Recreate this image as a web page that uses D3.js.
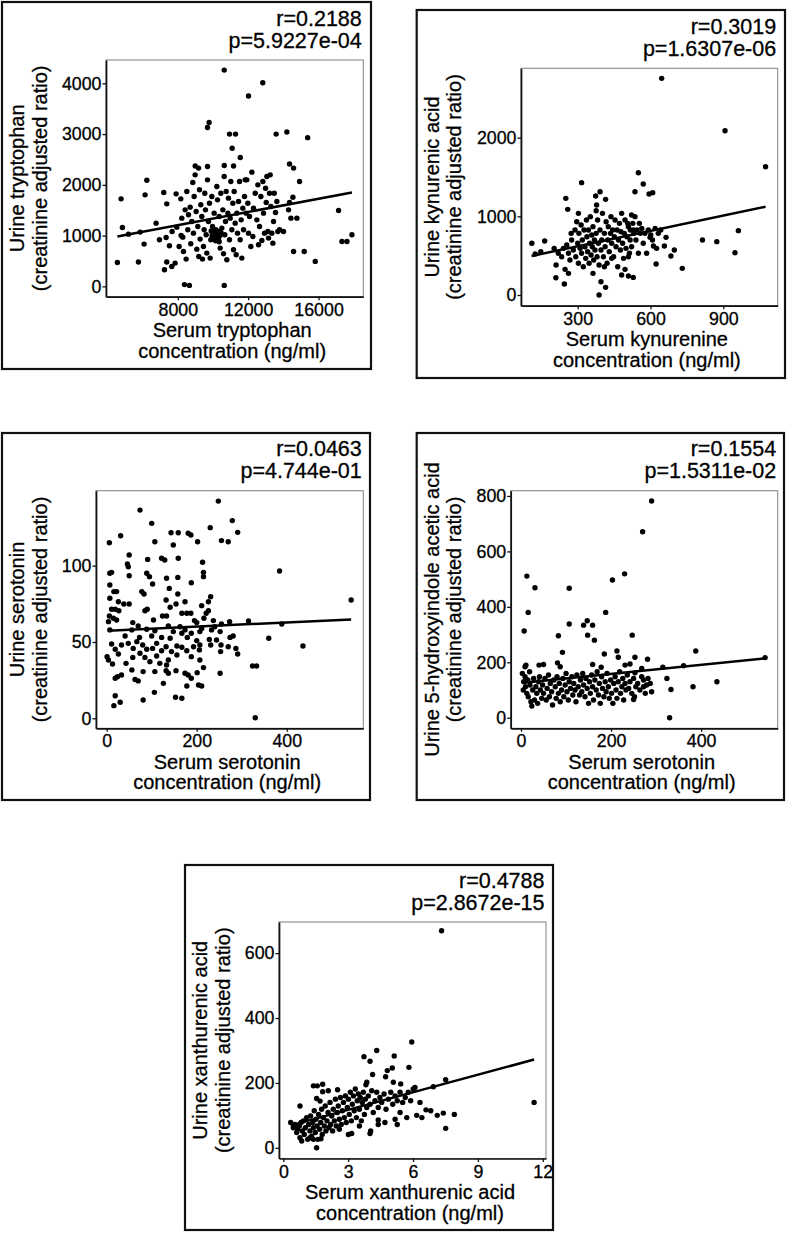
<!DOCTYPE html>
<html><head><meta charset="utf-8">
<script src="https://cdn.jsdelivr.net/npm/d3@7"></script>
<style>
body{margin:0;background:#fff}
svg{display:block}
text{font-family:"Liberation Sans",Arial,sans-serif;fill:#000;stroke:#000;stroke-width:0.3px}
</style>
</head><body>
<svg id="c" width="787" height="1235"></svg>
<script>
// ---------- DATA ----------
const statR = ["r=0.2188","r=0.3019","r=0.0463","r=0.1554","r=0.4788"];
const statP = ["p=5.9227e-04","p=1.6307e-06","p=4.744e-01","p=1.5311e-02","p=2.8672e-15"];
const yTitles = [
  ["Urine tryptophan","(creatinine adjusted ratio)"],
  ["Urine kynurenic acid","(creatinine adjusted ratio)"],
  ["Urine serotonin","(creatinine adjusted ratio)"],
  ["Urine 5-hydroxyindole acetic acid","(creatinine adjusted ratio)"],
  ["Urine xanthurenic acid","(creatinine adjusted ratio)"]
];
const xTitles = [
  ["Serum tryptophan","concentration (ng/ml)"],
  ["Serum kynurenine","concentration (ng/ml)"],
  ["Serum serotonin","concentration (ng/ml)"],
  ["Serum serotonin","concentration (ng/ml)"],
  ["Serum xanthurenic acid","concentration (ng/ml)"]
];
const xTicks = [[8000,12000,16000],[300,600,900],[0,200,400],[0,200,400],[0,3,6,9,12]];
const yTicks = [[0,1000,2000,3000,4000],[0,1000,2000],[0,50,100],[0,200,400,600,800],[0,200,400,600]];

// regression lines: [x0,y0],[x1,y1]
const fitTrp = [[4568,984],[17897,1849]];
const fitKyn = [[110,496],[1074,1123]];
const fitSer = [[4,57.4],[543,64.8]];
const fitHiaa = [[5,126],[542,214]];
const fitXa = [[0.34,69],[11.6,272]];

// points [serum, urine]
const trpPoints = [
[10640,4260],[12830,4010],[12020,3750],[9780,3230],[9690,3130],[10940,3000],[11280,3000],[13590,3000],[14200,3040],[15380,2930],
[11090,2720],[11550,2540],[8990,2370],[9180,2330],[9690,2360],[10640,2380],[11170,2370],[14350,2410],[14580,2330],[6240,2090],
[14920,2065],[12210,2250],[10640,20],[8380,35],[8660,20],
[4568,472],[4777,1724],[4853,1161],[5194,1029],[5763,479],[5858,1069],[6085,833],[6142,1803],[6768,1246],[6958,918],
[7204,1849],[7242,328],[7374,1626],[7336,964],[7374,479],[7526,800],[7659,393],[7678,1082],[7848,459],[7905,1823],
[7943,1167],[8076,787],[8171,1724],[8190,1003],[8228,1344],[8284,970],[8322,688],[8417,1508],[8474,538],[8512,1869],
[8569,1115],[8607,1410],[8702,1561],[8739,839],[8796,1279],[8853,2046],[8891,1049],[8929,1770],[8986,2197],[9043,1475],
[9081,734],[9138,1180],[9194,590],[9232,1902],[9270,931],[9308,1607],[9365,1377],[9403,538],[9460,787],[9498,1115],
[9535,1836],[9573,1508],[9611,1016],[9649,656],[9687,2098],[9744,1279],[9801,1639],[9839,557],[9877,918],[9934,1770],
[9972,1180],[10029,1049],[10067,1443],[10124,984],[10162,1115],[10219,1967],[10257,1705],[10314,918],[10351,1377],[10408,754],
[10446,1836],[10503,1148],[10560,1508],[10598,643],[10636,2164],[10674,1016],[10712,1279],[10750,1869],[10787,525],[10844,1443],
[10882,1738],[10939,918],[10977,1344],[11015,2065],[11071,1115],[11128,1639],[11166,721],[11204,1869],[11261,1246],[11318,623],
[11356,1443],[11394,1049],[11451,1672],[11508,2065],[11545,918],[11602,1311],[11640,557],[11697,1541],[11735,1115],[11792,1770],
[11830,2098],[11887,1443],[11924,2098],[11981,1639],[12019,1049],[12076,1377],[12152,787],[12266,984],[12304,1541],[12399,1836],
[12493,1311],[12550,2000],[12588,820],[12645,1180],[12721,1770],[12778,905],[12835,2065],[12873,1443],[12930,1049],[12987,1934],
[13025,1652],[13063,2164],[13120,1082],[13157,951],[13214,1836],[13252,2197],[13290,1574],[13347,1049],[13404,852],[13442,1279],
[13479,1836],[13555,1456],[13631,1672],[13688,1082],[14010,1082],[13783,1115],[14295,1508],[14352,1652],[14428,1344],[14542,1757],
[14580,688],[14769,1344],[15186,688],[15812,492],[17139,1495],[17329,885],[17613,885],[17897,1016],
[10100,1000],[10200,1050],[10300,1080],[10150,900],[10250,950],[10400,1000],[10350,880],[9950,1000],[10050,1120],[9900,1090],
[10450,1060],[10000,950]
];

const kynPoints = [
[646,2754],[907,2089],[1074,1631],[962,818],[948,538],[873,678],[814,699],[731,339],[684,496],[698,572],
[664,733],[657,623],[623,394],[612,623],[598,733],[642,826],[609,1301],[594,1284],[570,1411],[550,1555],
[536,1313],[522,1017],[506,911],[529,826],[516,699],[509,487],[495,326],[509,241],[529,224],[481,254],
[316,1428],[392,1313],[374,1258],[415,1216],[378,1144],[376,1072],[303,1038],[251,1229],[259,1089],[296,932],
[273,784],[111,657],[125,521],[148,551],[164,686],[203,593],[211,381],[210,220],[245,140],[248,326],
[262,275],[388,0],[396,169],[415,97],[363,275],[410,360],[440,466],
[220,530],[234,487],[241,593],[255,636],[262,530],[268,445],[275,699],[282,572],[289,826],[292,487],
[300,657],[303,403],[305,784],[310,593],[314,890],[316,530],[319,699],[323,360],[326,826],[330,614],
[333,466],[336,953],[338,741],[341,551],[344,826],[347,403],[349,657],[352,996],[355,508],[358,763],
[360,614],[363,869],[366,445],[369,699],[371,572],[376,784],[380,487],[382,953],[385,657],[388,381],
[392,826],[396,572],[399,699],[402,1038],[406,487],[410,784],[413,614],[417,932],[421,403],[424,699],
[426,869],[430,551],[435,784],[437,996],[440,657],[444,826],[448,487],[451,741],[454,953],[458,614],
[462,826],[465,360],[468,699],[472,911],[476,572],[478,805],[481,1038],[485,657],[489,466],[492,784],
[495,953],[499,593],[503,741],[509,869],[513,530],[517,826],[522,614],[527,911],[531,784],[536,996],
[540,699],[544,826],[550,530],[554,911],[558,784],[564,847],[570,657],[577,784],[584,530],[591,826],
[601,763],[608,699],[619,847],[625,593],[632,784]
];

const serPoints = [
[248,142.3],[74,136.4],[279,129.5],[100,127.7],[230,124.9],[31,119.6],[143,121.6],[159,121.6],[181,121.2],[187,120.1],
[291,121.8],[6,115.0],[107,115.7],[148,113.5],[202,115.7],[255,116.4],[270,115.7],[50,107.0],[46,101.1],[48,99.3],
[122,104.8],[129,103.7],[91,104.1],[159,104.8],[213,102.2],[215,95.6],[215,92.8],[384,96.5],[7,95.0],[11,95.6],
[50,93.4],[89,95.0],[95,92.8],[102,88.0],[133,91.7],[158,92.3],[188,88.8],[7,87.3],[16,83.0],[22,83.0],
[78,83.0],[83,81.4],[139,85.1],[158,81.4],[7,78.6],[26,76.4],[38,74.9],[50,74.9],[132,77.5],[154,74.9],
[174,76.4],[231,79.7],[226,76.4],[211,73.8],[11,71.4],[19,71.4],[141,72.7],[85,70.5],[90,71.4],[27,70.5],
[226,70.5],[221,68.8],[178,68.8],[187,68.8],[124,67.0],[133,67.0],[167,68.8],[216,65.5],[6,67.0],[15,65.5],
[22,64.4],[4,63.3],[58,62.7],[104,64.4],[195,64.0],[200,62.7],[237,64.0],[255,61.8],[273,63.3],[315,63.7],
[389,61.8],[70,60.5],[137,60.5],[163,60.0],[174,57.9],[211,58.9],[240,60.0],[7,57.9],[56,57.9],[89,58.3],
[107,57.4],[148,56.8],[167,55.7],[188,55.7],[207,56.8],[233,57.9],[252,56.8],[281,53.9],[274,53.0],[360,52.4],
[41,53.9],[73,53.0],[100,53.9],[122,53.0],[141,52.4],[179,53.0],[200,50.9],[228,51.7],[244,51.3],[11,48.7],
[33,48.0],[48,49.1],[67,50.2],[80,48.0],[111,49.1],[132,46.9],[156,47.4],[167,46.5],[193,46.9],[207,48.0],
[231,48.0],[254,48.0],[270,46.9],[287,45.8],[436,47.4],[19,45.2],[59,45.8],[89,45.2],[102,45.8],[122,44.3],
[144,43.7],[178,44.3],[206,44.8],[253,43.7],[26,42.1],[74,42.6],[111,40.8],[156,41.5],[188,40.4],[291,42.1],
[1,40.4],[4,38.2],[58,39.9],[85,39.9],[137,38.2],[13,35.6],[43,36.0],[96,37.1],[118,36.0],[133,34.9],
[207,38.2],[324,34.3],[333,34.3],[56,31.7],[81,30.6],[107,30.6],[132,31.2],[137,29.5],[154,31.2],[174,29.5],
[201,29.9],[215,33.2],[252,29.5],[181,28.4],[19,26.2],[24,27.3],[33,28.4],[63,25.5],[70,24.5],[188,26.2],
[126,22.9],[178,21.2],[204,21.8],[211,21.2],[106,17.0],[19,14.8],[153,13.8],[167,13.1],[30,10.5],[16,8.3],
[81,12.0],[330,0.4],[543,77.5]
];

const hiaaPoints = [
[290,782],[270,671],[13,511],[31,469],[16,380],[7,313],[107,467],[203,497],[230,519],[107,338],
[139,334],[147,350],[159,334],[148,298],[163,280],[188,380],[83,296],[247,298],[92,236],[185,230],
[213,241],[216,218],[253,218],[281,211],[388,241],[361,188],[315,182],[542,217],[324,142],[333,102],
[382,112],[435,130],[330,0],[9,184],[11,190],[40,190],[50,192],[81,198],[87,184],[159,192],
[178,182],[231,190],[242,194],[268,178],[253,162],[282,142],[287,124],[276,88],[290,94],[272,112],
[250,66],[252,76],[268,148],
[3,160],[6,130],[5,100],[9,148],[10,112],[13,88],[15,136],[16,76],[19,166],[20,118],
[22,58],[24,42],[26,100],[28,142],[30,64],[33,112],[35,88],[37,52],[39,130],[41,148],
[43,100],[46,70],[48,118],[50,88],[53,142],[56,64],[58,106],[61,154],[63,76],[65,124],
[68,94],[70,46],[73,136],[76,112],[78,70],[80,148],[83,88],[85,124],[87,58],[90,100],
[93,142],[95,76],[98,118],[100,160],[102,94],[105,64],[107,130],[110,106],[113,148],[115,82],
[117,124],[120,100],[122,58],[124,154],[127,112],[130,82],[132,136],[135,94],[137,160],[139,118],
[142,76],[144,142],[147,106],[150,52],[152,130],[154,88],[157,154],[159,112],[161,64],[164,136],
[167,100],[169,166],[172,82],[174,124],[176,52],[179,148],[181,106],[184,76],[187,130],[189,94],
[191,160],[194,112],[196,70],[199,136],[201,88],[204,52],[206,124],[209,148],[211,100],[213,70],
[216,130],[219,166],[221,88],[224,112],[226,142],[228,64],[231,124],[233,100],[236,154],[239,106],
[242,130],[246,88],[250,142],[255,112],[259,124],[264,100],[272,136],[279,118]
];

const xaPoints = [
[7.32,669],[5.94,326],[4.32,300],[5.13,283],[3.73,281],[4.01,267],[5.81,248],[5.04,246],[4.81,238],[4.13,226],
[4.73,219],[7.51,210],[6.94,188],[3.86,202],[3.82,194],[5.09,202],[5.43,197],[6.09,186],[6.01,181],[6.32,140],
[11.60,140],[6.60,117],[6.82,114],[7.12,100],[7.40,107],[7.91,103],[7.51,60],[6.17,100],[6.41,93],[5.71,93],
[5.40,109],[5.17,88],[5.27,72],[4.70,78],[4.39,72],[4.01,44],[4.04,52],[4.39,86],[3.52,67],[3.16,44],
[3.01,41],[2.59,57],[1.54,0],[0.85,21],[0.34,78],[1.39,191],[1.57,191],[1.82,196],[2.08,176],[1.82,173],
[2.51,179],[1.54,152],[1.70,144],[0.77,129],[1.23,31],[1.39,26],[1.74,28],
[0.46,62],[0.54,72],[0.62,47],[0.66,57],[0.74,67],[0.77,31],[0.82,78],[0.88,52],[0.93,83],[0.97,41],
[1.02,62],[1.08,93],[1.13,26],[1.17,72],[1.23,52],[1.26,98],[1.31,36],[1.36,78],[1.39,62],[1.43,114],
[1.48,47],[1.51,88],[1.56,67],[1.60,26],[1.63,103],[1.68,57],[1.73,78],[1.77,119],[1.80,41],[1.85,93],
[1.90,67],[1.94,129],[1.97,52],[2.02,83],[2.07,109],[2.11,62],[2.16,140],[2.19,72],[2.24,98],[2.28,52],
[2.31,119],[2.36,83],[2.41,150],[2.45,67],[2.50,109],[2.54,129],[2.59,88],[2.64,155],[2.68,72],[2.73,114],
[2.78,140],[2.82,93],[2.87,160],[2.91,78],[2.96,124],[3.01,150],[3.05,103],[3.10,171],[3.15,83],[3.19,134],
[3.24,160],[3.28,114],[3.33,181],[3.38,93],[3.42,145],[3.47,166],[3.52,119],[3.56,155],[3.61,83],[3.65,140],
[3.70,171],[3.75,103],[3.79,150],[3.86,124],[3.93,160],[4.01,134],[4.09,176],[4.16,109],[4.24,145],[4.32,171],
[4.39,124],[4.47,155],[4.55,140],[4.66,166],[4.75,119],[4.86,150],[4.97,171],[5.06,134],[5.17,160],[5.27,145],
[5.40,171],[5.52,140],[5.64,155],[5.78,171],[5.89,145]
];

const pointSets = [trpPoints, kynPoints, serPoints, hiaaPoints, xaPoints];
const fits = [fitTrp, fitKyn, fitSer, fitHiaa, fitXa];

// ---------- LAYOUT (positions, not data) ----------
const layout = [
  {box:[2,2,371,369],       plot:[106,60,363.3,296.7],    xd:[3920,18543], yd:[-203,4459]},
  {box:[416.7,10,785,378],  plot:[521,68.3,777.7,305.7],  xd:[66.4,1124],  yd:[-136,2882]},
  {box:[2,433,370,800],     plot:[96,490.7,363.3,728.3],  xd:[-23.7,570],  yd:[-6.55,149.1]},
  {box:[416.7,433,784,800], plot:[510.7,490.7,777.7,728.3], xd:[-22.9,570], yd:[-38,819]},
  {box:[185,865,553,1230],  plot:[279,922,546,1158.5],    xd:[-0.2,12.15], yd:[-33,696]}
];

const svg = d3.select("#c");

layout.forEach((L, i) => {
  const g = svg.append("g");
  const [bx0, by0, bx1, by1] = L.box;
  const [px0, py0, px1, py1] = L.plot;

  g.append("rect").attr("x", bx0).attr("y", by0)
    .attr("width", bx1 - bx0).attr("height", by1 - by0)
    .attr("fill", "none").attr("stroke", "#111").attr("stroke-width", 2.2);

  const x = d3.scaleLinear().domain(L.xd).range([px0, px1]);
  const y = d3.scaleLinear().domain(L.yd).range([py1, py0]);

  // panel border (grey)
  g.append("rect").attr("x", px0).attr("y", py0)
    .attr("width", px1 - px0).attr("height", py1 - py0)
    .attr("fill", "none").attr("stroke", "#8a8a8a").attr("stroke-width", 1.1);

  // axes
  const xa = g.append("g").attr("transform", `translate(0,${py1})`)
    .call(d3.axisBottom(x).tickValues(xTicks[i]).tickSize(3.5).tickSizeOuter(0).tickPadding(3).tickFormat(d3.format("d")));
  const ya = g.append("g").attr("transform", `translate(${px0},0)`)
    .call(d3.axisLeft(y).tickValues(yTicks[i]).tickSize(3.5).tickSizeOuter(0).tickPadding(1).tickFormat(d3.format("d")));
  [xa, ya].forEach(a => {
    a.select(".domain").attr("stroke", "#111").attr("stroke-width", 1.7);
    a.selectAll(".tick line").attr("stroke", "#111").attr("stroke-width", 1.3);
    a.selectAll(".tick text").attr("font-size", "17.8px").attr("fill", "#000")
      .style("font-family", '"Liberation Sans",Arial,sans-serif');
  });

  // points
  g.append("g").selectAll("circle").data(pointSets[i]).join("circle")
    .attr("cx", d => x(d[0])).attr("cy", d => y(d[1])).attr("r", 2.7).attr("fill", "#000");

  // regression line
  g.append("path").datum(fits[i])
    .attr("d", d3.line().x(d => x(d[0])).y(d => y(d[1])))
    .attr("stroke", "#000").attr("stroke-width", 2.5).attr("fill", "none");

  // stats text
  g.append("text").attr("x", px1 - 1.5).attr("y", py0 - 34.5).attr("text-anchor", "end")
    .attr("font-size", "21.5px").text(statR[i]);
  g.append("text").attr("x", px1 - 1.5).attr("y", py0 - 12.5).attr("text-anchor", "end")
    .attr("font-size", "21.5px").text(statP[i]);

  // y title
  const cy = (py0 + py1) / 2;
  yTitles[i].forEach((t, k) => {
    g.append("text").attr("transform", `translate(${bx0 + 22 + k * 22.5},${cy}) rotate(-90)`)
      .attr("text-anchor", "middle").attr("font-size", "20px").text(t);
  });
  // x title
  const cx = (px0 + px1) / 2 - 2.5;
  xTitles[i].forEach((t, k) => {
    g.append("text").attr("x", cx).attr("y", py1 + 40.5 + k * 20.5)
      .attr("text-anchor", "middle").attr("font-size", "20px").text(t);
  });
});
</script>
</body></html>
